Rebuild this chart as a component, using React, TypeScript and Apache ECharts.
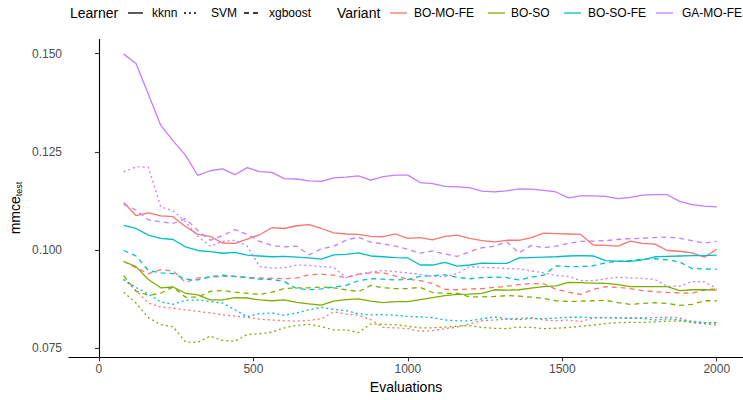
import React, { useEffect, useRef } from "react";
import * as echarts from "echarts";

const FONT = '"Liberation Sans", Arial, Helvetica, sans-serif';

// x values (evaluations)
const evaluations = [
  80, 120, 160, 200, 240, 280, 320, 360, 400, 440, 480, 520, 560, 600, 640, 680, 720,
  760, 800, 840, 880, 920, 960, 1000, 1040, 1080, 1120, 1160, 1200, 1240, 1280, 1320,
  1360, 1400, 1440, 1480, 1520, 1560, 1600, 1640, 1680, 1720, 1760, 1800, 1840, 1880,
  1920, 1960, 2000,
];

const xTicks = [0, 500, 1000, 1500, 2000];
const yTicks = [0.075, 0.1, 0.125, 0.15];

const variants = ["BO-MO-FE", "BO-SO", "BO-SO-FE", "GA-MO-FE"];
const variantColors = ["#F8766D", "#7CAE00", "#00BFC4", "#C77CFF"];
const learners = ["kknn", "SVM", "xgboost"];

// BO-MO-FE
const boMoFeKknn = [0.1121, 0.1088, 0.1095, 0.1087, 0.1085, 0.1060, 0.1040, 0.1035, 0.1018, 0.1017, 0.1028, 0.1039, 0.1057, 0.1055, 0.1062, 0.1065, 0.1055, 0.1044, 0.1041, 0.1040, 0.1035, 0.1034, 0.1041, 0.1030, 0.1032, 0.1026, 0.1035, 0.1038, 0.1030, 0.1024, 0.1021, 0.1025, 0.1025, 0.1032, 0.1043, 0.1042, 0.1041, 0.1040, 0.1013, 0.1012, 0.1010, 0.1023, 0.1017, 0.1015, 0.0999, 0.0997, 0.0993, 0.0982, 0.1002];
const boMoFeSvm = [0.0925, 0.0898, 0.0865, 0.0855, 0.0852, 0.0848, 0.0844, 0.0840, 0.0835, 0.0832, 0.0829, 0.0824, 0.0822, 0.0820, 0.0819, 0.0821, 0.0825, 0.0843, 0.0837, 0.0834, 0.0823, 0.0803, 0.0802, 0.0800, 0.0793, 0.0795, 0.0800, 0.0804, 0.0812, 0.0820, 0.0822, 0.0824, 0.0826, 0.0828, 0.0822, 0.0820, 0.0822, 0.0818, 0.0827, 0.0828, 0.0828, 0.0828, 0.0828, 0.0828, 0.0829, 0.0828, 0.0815, 0.0812, 0.0809];
const boMoFeXgboost = [0.0971, 0.0955, 0.0940, 0.0950, 0.0947, 0.0918, 0.0929, 0.0931, 0.0933, 0.0933, 0.0930, 0.0929, 0.0928, 0.0927, 0.0929, 0.0937, 0.0939, 0.0936, 0.0930, 0.0939, 0.0942, 0.0942, 0.0934, 0.0926, 0.0922, 0.0915, 0.0900, 0.0899, 0.0901, 0.0902, 0.0905, 0.0908, 0.0912, 0.0915, 0.0914, 0.0900, 0.0893, 0.0887, 0.0900, 0.0907, 0.0905, 0.0902, 0.0897, 0.0894, 0.0892, 0.0891, 0.0890, 0.0898, 0.0902];

// BO-SO
const boSoKknn = [0.0971, 0.0958, 0.0925, 0.0904, 0.0906, 0.0890, 0.0886, 0.0873, 0.0873, 0.0879, 0.0878, 0.0873, 0.0871, 0.0873, 0.0867, 0.0863, 0.0860, 0.0870, 0.0874, 0.0876, 0.0870, 0.0866, 0.0869, 0.0869, 0.0874, 0.0879, 0.0884, 0.0887, 0.0888, 0.0890, 0.0899, 0.0898, 0.0899, 0.0903, 0.0907, 0.0909, 0.0918, 0.0917, 0.0916, 0.0915, 0.0912, 0.0907, 0.0907, 0.0907, 0.0907, 0.0897, 0.0899, 0.0899, 0.0898];
const boSoSvm = [0.0893, 0.0865, 0.0828, 0.0810, 0.0805, 0.0766, 0.0765, 0.0781, 0.0770, 0.0768, 0.0785, 0.0787, 0.0791, 0.0802, 0.0808, 0.0811, 0.0805, 0.0797, 0.0797, 0.0790, 0.0812, 0.0811, 0.0810, 0.0806, 0.0802, 0.0802, 0.0804, 0.0806, 0.0808, 0.0803, 0.0801, 0.0800, 0.0804, 0.0803, 0.0800, 0.0801, 0.0803, 0.0806, 0.0809, 0.0813, 0.0815, 0.0816, 0.0816, 0.0817, 0.0819, 0.0819, 0.0817, 0.0815, 0.0813];
const boSoXgboost = [0.0935, 0.0895, 0.0885, 0.0890, 0.0906, 0.0880, 0.0880, 0.0895, 0.0897, 0.0893, 0.0890, 0.0887, 0.0893, 0.0902, 0.0904, 0.0904, 0.0906, 0.0904, 0.0899, 0.0894, 0.0910, 0.0904, 0.0902, 0.0902, 0.0905, 0.0892, 0.0890, 0.0890, 0.0881, 0.0881, 0.0882, 0.0884, 0.0883, 0.0880, 0.0877, 0.0871, 0.0869, 0.0870, 0.0871, 0.0872, 0.0866, 0.0862, 0.0864, 0.0866, 0.0864, 0.0859, 0.0862, 0.0871, 0.0871];

// BO-SO-FE
const boSoFeKknn = [0.1063, 0.1055, 0.1038, 0.1030, 0.1027, 0.1008, 0.0999, 0.0996, 0.0992, 0.0994, 0.0987, 0.0985, 0.0983, 0.0984, 0.0982, 0.0980, 0.0977, 0.0988, 0.0989, 0.0993, 0.0985, 0.0983, 0.0981, 0.0980, 0.0962, 0.0962, 0.0969, 0.0959, 0.0962, 0.0967, 0.0966, 0.0966, 0.0980, 0.0981, 0.0982, 0.0983, 0.0985, 0.0986, 0.0985, 0.0973, 0.0972, 0.0971, 0.0975, 0.0983, 0.0984, 0.0985, 0.0986, 0.0986, 0.0987];
const boSoFeSvm = [0.0925, 0.0905, 0.0888, 0.0868, 0.0862, 0.0872, 0.0873, 0.0869, 0.0865, 0.0848, 0.0830, 0.0838, 0.0840, 0.0834, 0.0840, 0.0848, 0.0854, 0.0849, 0.0846, 0.0838, 0.0835, 0.0836, 0.0834, 0.0831, 0.0830, 0.0828, 0.0822, 0.0820, 0.0820, 0.0825, 0.0830, 0.0825, 0.0823, 0.0826, 0.0825, 0.0827, 0.0829, 0.0829, 0.0828, 0.0828, 0.0827, 0.0826, 0.0826, 0.0822, 0.0825, 0.0822, 0.0819, 0.0815, 0.0816];
const boSoFeXgboost = [0.0999, 0.0985, 0.0948, 0.0942, 0.0940, 0.0926, 0.0924, 0.0932, 0.0936, 0.0933, 0.0930, 0.0926, 0.0925, 0.0920, 0.0902, 0.0899, 0.0901, 0.0906, 0.0910, 0.0922, 0.0927, 0.0926, 0.0924, 0.0925, 0.0933, 0.0935, 0.0937, 0.0931, 0.0927, 0.0930, 0.0931, 0.0930, 0.0924, 0.0931, 0.0936, 0.0960, 0.0958, 0.0958, 0.0960, 0.0968, 0.0971, 0.0973, 0.0977, 0.0978, 0.0975, 0.0970, 0.0953, 0.0952, 0.0951];

// GA-MO-FE
const gaMoFeKknn = [0.1499, 0.1475, 0.1397, 0.1318, 0.1278, 0.1242, 0.1190, 0.1202, 0.1207, 0.1192, 0.1210, 0.1200, 0.1198, 0.1182, 0.1181, 0.1176, 0.1175, 0.1184, 0.1186, 0.1189, 0.1178, 0.1187, 0.1191, 0.1191, 0.1172, 0.1169, 0.1162, 0.1161, 0.1159, 0.1150, 0.1148, 0.1151, 0.1156, 0.1155, 0.1152, 0.1148, 0.1133, 0.1138, 0.1138, 0.1137, 0.1131, 0.1134, 0.1140, 0.1141, 0.1141, 0.1124, 0.1116, 0.1112, 0.1110];
const gaMoFeSvm = [0.1199, 0.1212, 0.1211, 0.1110, 0.1100, 0.1072, 0.1035, 0.1010, 0.1022, 0.1025, 0.1010, 0.0958, 0.0954, 0.0955, 0.0962, 0.0961, 0.0958, 0.0956, 0.0930, 0.0938, 0.0944, 0.0948, 0.0945, 0.0942, 0.0938, 0.0933, 0.0932, 0.0940, 0.0958, 0.0956, 0.0955, 0.0953, 0.0952, 0.0947, 0.0942, 0.0935, 0.0933, 0.0922, 0.0922, 0.0927, 0.0931, 0.0929, 0.0928, 0.0925, 0.0908, 0.0908, 0.0920, 0.0919, 0.0902];
const gaMoFeXgboost = [0.1117, 0.1102, 0.1077, 0.1072, 0.1068, 0.1080, 0.1050, 0.1025, 0.1037, 0.1052, 0.1040, 0.1022, 0.1012, 0.1008, 0.1010, 0.0988, 0.1003, 0.1010, 0.1025, 0.1033, 0.1020, 0.1016, 0.1010, 0.1002, 0.0992, 0.0998, 0.0990, 0.0984, 0.0996, 0.1006, 0.1010, 0.1021, 0.0993, 0.1012, 0.1006, 0.1010, 0.1017, 0.1022, 0.1023, 0.1024, 0.1027, 0.1029, 0.1030, 0.1032, 0.1033, 0.1030, 0.1024, 0.1018, 0.1022];

const seriesValues = [
  [boMoFeKknn, boMoFeSvm, boMoFeXgboost],
  [boSoKknn, boSoSvm, boSoXgboost],
  [boSoFeKknn, boSoFeSvm, boSoFeXgboost],
  [gaMoFeKknn, gaMoFeSvm, gaMoFeXgboost],
];

const learnerDash: any[] = ["solid", [2, 3], [5, 4]];
const LW = 1.3;

function buildOption() {
  const series: any[] = [];
  variants.forEach((v, vi) => {
    learners.forEach((l, li) => {
      series.push({
        name: `${v} ${l}`,
        type: "line",
        symbol: "none",
        showSymbol: false,
        silent: true,
        data: evaluations.map((x, i) => [x, seriesValues[vi][li][i]]),
        lineStyle: { color: variantColors[vi], width: LW, type: learnerDash[li] },
        itemStyle: { color: variantColors[vi] },
      });
    });
  });

  const legendY = 13;
  const graphics: any[] = [];
  const addText = (text: string, x: number, size: number) =>
    graphics.push({
      type: "text",
      x,
      y: legendY,
      style: { text, fontSize: size, fontFamily: FONT, fill: "#000", align: "left", verticalAlign: "middle" },
    });
  const addKey = (x: number, len: number, color: string, dash: any) =>
    graphics.push({
      type: "line",
      shape: { x1: x, y1: legendY, x2: x + len, y2: legendY },
      style: { stroke: color, lineWidth: LW, lineDash: dash === "solid" ? null : dash },
    });

  addText("Learner", 70, 14);
  const learnerKeyX = [128, 184, 244];
  const learnerTextX = [152, 211, 269];
  learners.forEach((l, i) => {
    addKey(learnerKeyX[i], 15, "#000", learnerDash[i]);
    addText(l, learnerTextX[i], 12);
  });
  addText("Variant", 337, 14);
  const variantKeyX = [390, 488, 564, 656];
  const variantTextX = [414, 511, 588, 682];
  variants.forEach((v, i) => {
    addKey(variantKeyX[i], 17, variantColors[i], "solid");
    addText(v, variantTextX[i], 12);
  });

  graphics.push({
    type: "text",
    x: 15,
    y: 208,
    rotation: Math.PI / 2,
    style: {
      text: "{a|mmce}{b|test}",
      align: "center",
      verticalAlign: "middle",
      fill: "#000",
      rich: {
        a: { fontSize: 14, fontFamily: FONT, lineHeight: 18, fill: "#000" },
        b: { fontSize: 9, fontFamily: FONT, lineHeight: 10, padding: [8, 0, 0, 0], fill: "#000" },
      },
    },
  });

  return {
    animation: false,
    backgroundColor: "#fff",
    grid: { left: 69, right: 0, top: 39.6, bottom: 42.7, containLabel: false },
    xAxis: {
      type: "value",
      min: -97,
      max: 2085,
      name: "Evaluations",
      nameLocation: "middle",
      nameGap: 20,
      nameTextStyle: { fontSize: 14, fontFamily: FONT, color: "#000" },
      splitLine: { show: false },
      axisLine: { show: true, lineStyle: { color: "#000", width: 1.1 } },
      axisTick: { show: true, length: 4, customValues: xTicks, lineStyle: { color: "#333", width: 1.1 } },
      axisLabel: {
        customValues: xTicks,
        color: "#4D4D4D",
        fontSize: 12,
        fontFamily: FONT,
        margin: 6,
        formatter: (v: number) => String(Math.round(v)),
      },
    },
    yAxis: {
      type: "value",
      min: 0.0727,
      max: 0.1536,
      splitLine: { show: false },
      axisLine: { show: true, lineStyle: { color: "#000", width: 1.1 } },
      axisTick: { show: true, length: 4, customValues: yTicks, lineStyle: { color: "#333", width: 1.1 } },
      axisLabel: {
        customValues: yTicks,
        color: "#4D4D4D",
        fontSize: 12,
        fontFamily: FONT,
        margin: 7,
        formatter: (v: number) => v.toFixed(3),
      },
    },
    graphic: graphics,
    series,
  };
}

export default function App() {
  const ref = useRef<HTMLDivElement>(null);
  useEffect(() => {
    if (!ref.current) return;
    const chart = echarts.init(ref.current, null, { renderer: "svg" });
    chart.setOption(buildOption() as any);
    return () => chart.dispose();
  }, []);
  return (
    <div
      ref={ref}
      style={{ position: "fixed", left: 0, top: 0, width: 743, height: 400, background: "#fff" }}
    />
  );
}
